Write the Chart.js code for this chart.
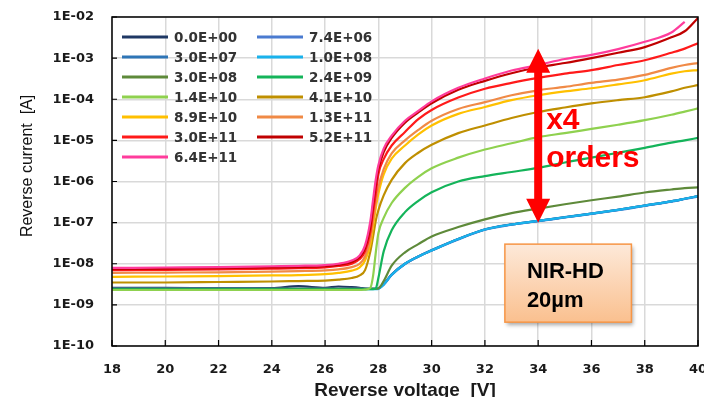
<!DOCTYPE html>
<html>
<head>
<meta charset="utf-8">
<script src="https://cdn.jsdelivr.net/npm/chart.js@4.4.1/dist/chart.umd.min.js"></script>
<style>
html, body { margin: 0; padding: 0; background: #fff; overflow: hidden; }
#wrap { width: 704px; height: 405px; }
</style>
</head>
<body>
<div id="wrap"><canvas id="myChart" width="704" height="405"></canvas></div>
<script>
// reverse voltage [V]
var volts = [18, 20, 22, 24, 25, 26, 26.5, 27, 27.3, 27.5, 27.7, 27.8, 27.9, 28, 28.2, 28.5, 29, 29.5, 30, 31, 32, 33, 34, 35, 36, 37, 38, 39, 39.5, 40];

// legend labels (fluence)
var doseLabels = ['0.0E+00', '7.4E+06', '3.0E+07', '1.0E+08', '3.0E+08', '2.4E+09', '1.4E+10',
    '4.1E+10', '8.9E+10', '1.3E+11', '3.0E+11', '5.2E+11', '6.4E+11'];

var lineColors = ['#1f3864', '#4a7bd0', '#2e75b6', '#19b2ec', '#5e8a3a', '#14b45a', '#8fd14f',
    '#bf8f00', '#ffc000', '#f08a46', '#ff1a1a', '#c00000', '#ff3c9c'];

// reverse current [A], one array per fluence
var iDose0 = [2.6e-9, 2.6e-9, 2.55e-9, 2.55e-9, 2.85e-9, 2.6e-9, 2.8e-9, 2.7e-9, 2.6e-9, 2.5e-9, 2.45e-9, 2.45e-9, 2.45e-9, 2.5e-9, 3.2e-9, 5.5e-9, 1.0e-8, 1.5e-8, 2.1e-8, 4.0e-8, 6.8e-8, 9.0e-8, 1.1e-7, 1.35e-7, 1.65e-7, 2.05e-7, 2.6e-7, 3.3e-7, 3.8e-7, 4.4e-7];
var iDose74e6 = [2.5e-9, 2.5e-9, 2.5e-9, 2.45e-9, 2.45e-9, 2.45e-9, 2.45e-9, 2.45e-9, 2.45e-9, 2.45e-9, 2.45e-9, 2.45e-9, 2.45e-9, 2.5e-9, 3.1e-9, 5.3e-9, 9.8e-9, 1.5e-8, 2.1e-8, 3.9e-8, 6.7e-8, 8.9e-8, 1.08e-7, 1.33e-7, 1.63e-7, 2.0e-7, 2.55e-7, 3.25e-7, 3.75e-7, 4.3e-7];
var iDose3e7 = [2.45e-9, 2.45e-9, 2.45e-9, 2.45e-9, 2.45e-9, 2.45e-9, 2.45e-9, 2.45e-9, 2.45e-9, 2.45e-9, 2.45e-9, 2.45e-9, 2.45e-9, 2.5e-9, 3.2e-9, 5.5e-9, 1.0e-8, 1.5e-8, 2.15e-8, 4.0e-8, 6.9e-8, 9.1e-8, 1.1e-7, 1.36e-7, 1.66e-7, 2.06e-7, 2.6e-7, 3.3e-7, 3.8e-7, 4.4e-7];
var iDose1e8 = [2.4e-9, 2.4e-9, 2.4e-9, 2.4e-9, 2.4e-9, 2.4e-9, 2.4e-9, 2.4e-9, 2.4e-9, 2.4e-9, 2.4e-9, 2.4e-9, 2.4e-9, 2.45e-9, 3.1e-9, 5.4e-9, 1.0e-8, 1.5e-8, 2.1e-8, 4.0e-8, 6.8e-8, 9.0e-8, 1.1e-7, 1.35e-7, 1.65e-7, 2.05e-7, 2.6e-7, 3.3e-7, 3.8e-7, 4.4e-7];
var iDose3e8 = [2.45e-9, 2.45e-9, 2.45e-9, 2.45e-9, 2.45e-9, 2.45e-9, 2.45e-9, 2.45e-9, 2.45e-9, 2.45e-9, 2.45e-9, 2.45e-9, 2.45e-9, 2.5e-9, 3.8e-9, 9.0e-9, 1.9e-8, 3.0e-8, 4.6e-8, 7.8e-8, 1.2e-7, 1.7e-7, 2.2e-7, 2.8e-7, 3.5e-7, 4.3e-7, 5.4e-7, 6.4e-7, 6.9e-7, 7.2e-7];
var iDose24e9 = [2.4e-9, 2.4e-9, 2.4e-9, 2.4e-9, 2.4e-9, 2.4e-9, 2.4e-9, 2.4e-9, 2.4e-9, 2.4e-9, 2.4e-9, 2.4e-9, 2.5e-9, 4.5e-9, 2.0e-8, 6.5e-8, 1.8e-7, 3.4e-7, 5.5e-7, 1.0e-6, 1.35e-6, 1.7e-6, 2.15e-6, 2.9e-6, 3.8e-6, 5.0e-6, 6.6e-6, 8.8e-6, 1.0e-5, 1.15e-5];
var iDose14e10 = [2.3e-9, 2.3e-9, 2.3e-9, 2.3e-9, 2.3e-9, 2.3e-9, 2.3e-9, 2.3e-9, 2.3e-9, 2.35e-9, 2.6e-9, 5.0e-9, 1.8e-8, 5.5e-8, 1.3e-7, 3.0e-7, 7.0e-7, 1.3e-6, 2.1e-6, 3.8e-6, 6.0e-6, 8.5e-6, 1.2e-5, 1.5e-5, 1.9e-5, 2.4e-5, 3.1e-5, 4.2e-5, 5.0e-5, 6.0e-5];
var iDose41e10 = [3.5e-9, 3.5e-9, 3.6e-9, 3.7e-9, 3.8e-9, 3.9e-9, 4.1e-9, 4.5e-9, 5.2e-9, 7.0e-9, 2.0e-8, 4.5e-8, 1.1e-7, 2.0e-7, 4.6e-7, 1.1e-6, 2.8e-6, 5.0e-6, 7.8e-6, 1.5e-5, 2.3e-5, 3.5e-5, 4.9e-5, 6.3e-5, 7.9e-5, 9.5e-5, 1.12e-4, 1.55e-4, 1.9e-4, 2.2e-4];
var iDose89e10 = [4.8e-9, 4.9e-9, 5.0e-9, 5.2e-9, 5.3e-9, 5.6e-9, 6.0e-9, 6.8e-9, 8.2e-9, 1.2e-8, 3.0e-8, 8.0e-8, 2.2e-7, 5.0e-7, 1.5e-6, 3.6e-6, 7.5e-6, 1.4e-5, 2.3e-5, 4.4e-5, 6.5e-5, 9.5e-5, 1.25e-4, 1.55e-4, 1.85e-4, 2.3e-4, 2.9e-4, 4.2e-4, 4.8e-4, 5.1e-4];
var iDose13e11 = [6.0e-9, 6.1e-9, 6.2e-9, 6.4e-9, 6.6e-9, 6.9e-9, 7.3e-9, 8.3e-9, 1.0e-8, 1.5e-8, 4.0e-8, 1.1e-7, 3.0e-7, 7.0e-7, 2.0e-6, 4.8e-6, 1.0e-5, 1.8e-5, 3.0e-5, 5.8e-5, 8.5e-5, 1.25e-4, 1.65e-4, 2.0e-4, 2.5e-4, 3.0e-4, 3.9e-4, 5.8e-4, 6.8e-4, 7.6e-4];
var iDose3e11 = [7.0e-9, 7.1e-9, 7.3e-9, 7.6e-9, 7.8e-9, 8.2e-9, 8.8e-9, 1.0e-8, 1.3e-8, 2.0e-8, 6.0e-8, 1.8e-7, 5.0e-7, 1.5e-6, 3.5e-6, 7.5e-6, 1.6e-5, 3.3e-5, 5.5e-5, 1.1e-4, 1.8e-4, 2.5e-4, 3.3e-4, 4.2e-4, 5.1e-4, 6.8e-4, 8.9e-4, 1.35e-3, 1.7e-3, 2.3e-3];
var iDose52e11 = [7.4e-9, 7.6e-9, 7.8e-9, 8.1e-9, 8.3e-9, 8.7e-9, 9.4e-9, 1.1e-8, 1.45e-8, 2.4e-8, 8.0e-8, 2.6e-7, 8.0e-7, 2.0e-6, 5.2e-6, 1.15e-5, 2.7e-5, 4.8e-5, 8.0e-5, 1.7e-4, 2.8e-4, 4.3e-4, 6.0e-4, 7.6e-4, 1.0e-3, 1.35e-3, 1.85e-3, 3.2e-3, 4.5e-3, 9.5e-3];
var iDose64e11 = [7.9e-9, 8.1e-9, 8.3e-9, 8.7e-9, 8.9e-9, 9.3e-9, 1.0e-8, 1.2e-8, 1.6e-8, 2.8e-8, 1.1e-7, 3.5e-7, 1.1e-6, 2.5e-6, 6.3e-6, 1.3e-5, 3.0e-5, 5.2e-5, 8.9e-5, 1.9e-4, 3.2e-4, 5.0e-4, 6.8e-4, 9.5e-4, 1.2e-3, 1.66e-3, 2.5e-3, 4.2e-3, 7.6e-3, null];

var currents = [iDose0, iDose74e6, iDose3e7, iDose1e8, iDose3e8, iDose24e9, iDose14e10,
    iDose41e10, iDose89e10, iDose13e11, iDose3e11, iDose52e11, iDose64e11];

var yTicks = [1e-10, 1e-9, 1e-8, 1e-7, 1e-6, 1e-5, 1e-4, 1e-3, 1e-2];
var yTickLabels = ['1E-10', '1E-09', '1E-08', '1E-07', '1E-06', '1E-05', '1E-04', '1E-03', '1E-02'];

// annotation texts
var arrowV = 34;
var arrowFrom = 1.0e-7;
var arrowTo = 1.7e-3;
var noteLines = ['x4', 'orders'];
var boxLines = ['NIR-HD', '20\u00b5m'];

var datasets = currents.map(function (arr, i) {
    return {
        label: doseLabels[i],
        data: arr.map(function (v, k) { return { x: volts[k], y: v }; }),
        borderColor: lineColors[i],
        backgroundColor: lineColors[i],
        borderWidth: 2.2,
        pointRadius: 0,
        cubicInterpolationMode: 'monotone',
        order: currents.length - i  // later doses drawn on top
    };
});

var tickFont = { family: 'DejaVu Sans', size: 13, weight: 'bold' };

// frame + inner tick marks
var framePlugin = {
    id: 'frame',
    afterDatasetsDraw: function (chart) {
        var c = chart.ctx, a = chart.chartArea;
        var xs = chart.scales.x, ys = chart.scales.y;
        c.save();
        c.strokeStyle = '#000';
        c.lineWidth = 1.5;
        c.strokeRect(a.left, a.top, a.right - a.left, a.bottom - a.top);
        c.lineWidth = 1.2;
        c.beginPath();
        xs.ticks.forEach(function (t) {
            var px = xs.getPixelForValue(t.value);
            c.moveTo(px, a.bottom);
            c.lineTo(px, a.bottom - 6);
        });
        ys.ticks.forEach(function (t) {
            var py = ys.getPixelForValue(t.value);
            c.moveTo(a.left, py);
            c.lineTo(a.left + 5, py);
        });
        c.stroke();
        c.restore();
    }
};

// legend in two columns inside the plot
var legendPlugin = {
    id: 'innerLegend',
    afterDatasetsDraw: function (chart) {
        var c = chart.ctx, a = chart.chartArea;
        c.save();
        c.font = 'bold 13.5px "DejaVu Sans"';
        c.textBaseline = 'middle';
        c.fillStyle = '#333';
        chart.data.datasets.forEach(function (ds, i) {
            var col = i % 2, row = Math.floor(i / 2);
            var x0 = a.left + 10 + col * 135;
            var y0 = a.top + 20 + row * 20;
            c.strokeStyle = ds.borderColor;
            c.lineWidth = 3;
            c.beginPath();
            c.moveTo(x0, y0);
            c.lineTo(x0 + 46, y0);
            c.stroke();
            c.fillText(ds.label, x0 + 52, y0 + 1);
        });
        c.restore();
    }
};

// red double arrow, note and sample box
var notePlugin = {
    id: 'notes',
    afterDatasetsDraw: function (chart) {
        var c = chart.ctx;
        var xs = chart.scales.x, ys = chart.scales.y;
        var ax = xs.getPixelForValue(arrowV);
        var yTop = ys.getPixelForValue(arrowTo);
        var yBot = ys.getPixelForValue(arrowFrom);
        var hw = 12, hl = 24, sw = 4;
        c.save();
        c.fillStyle = '#ff0000';
        c.beginPath();
        c.moveTo(ax, yTop);
        c.lineTo(ax + hw, yTop + hl);
        c.lineTo(ax + sw, yTop + hl);
        c.lineTo(ax + sw, yBot - hl);
        c.lineTo(ax + hw, yBot - hl);
        c.lineTo(ax, yBot);
        c.lineTo(ax - hw, yBot - hl);
        c.lineTo(ax - sw, yBot - hl);
        c.lineTo(ax - sw, yTop + hl);
        c.lineTo(ax - hw, yTop + hl);
        c.closePath();
        c.fill();

        c.font = 'bold 30px "Liberation Sans"';
        c.textBaseline = 'alphabetic';
        var tx = xs.getPixelForValue(34.3);
        c.fillText(noteLines[0], tx, ys.getPixelForValue(1.9e-5));
        c.fillText(noteLines[1], tx, ys.getPixelForValue(2.2e-6));

        // box
        var bx = xs.getPixelForValue(32.75), bw = xs.getPixelForValue(37.5) - bx;
        var by = ys.getPixelForValue(3.0e-8), bh = ys.getPixelForValue(3.8e-10) - by;
        c.shadowColor = 'rgba(0,0,0,0.35)';
        c.shadowOffsetX = 2;
        c.shadowOffsetY = 3;
        c.shadowBlur = 4;
        var g = c.createLinearGradient(0, by, 0, by + bh);
        g.addColorStop(0, '#fde9d9');
        g.addColorStop(1, '#fac08f');
        c.fillStyle = g;
        c.fillRect(bx, by, bw, bh);
        c.shadowColor = 'transparent';
        c.strokeStyle = '#f79646';
        c.lineWidth = 1.5;
        c.strokeRect(bx, by, bw, bh);
        c.fillStyle = '#000';
        c.font = 'bold 22px "Liberation Sans"';
        c.fillText(boxLines[0], bx + 22, by + 34);
        c.fillText(boxLines[1], bx + 22, by + 63);
        c.restore();
    }
};

var ctx = document.getElementById('myChart').getContext('2d');
var myChart = new Chart(ctx, {
    type: 'line',
    data: { datasets: datasets },
    options: {
        responsive: false,
        animation: false,
        devicePixelRatio: 1,
        layout: { padding: { top: 17, right: 6, left: 0, bottom: 0 } },
        plugins: {
            legend: { display: false },
            tooltip: { enabled: false }
        },
        scales: {
            x: {
                type: 'linear',
                min: 18,
                max: 40,
                grid: { color: '#d9d9d9', lineWidth: 1.5, drawTicks: false },
                border: { display: false },
                ticks: { stepSize: 2, font: tickFont, color: '#1a1a1a', padding: 16, maxRotation: 0 },
                title: {
                    display: true,
                    text: 'Reverse voltage  [V]',
                    color: '#1a1a1a',
                    font: { family: 'Liberation Sans', size: 19, weight: 'bold' },
                    padding: { top: 0, bottom: 3 }
                },
                afterFit: function (scale) {
                    scale.height = 59;
                    scale.paddingLeft = 0;
                    scale.paddingRight = 0;
                }
            },
            y: {
                type: 'logarithmic',
                min: 1e-10,
                max: 1e-2,
                grid: { color: '#d9d9d9', lineWidth: 1.5, drawTicks: false },
                border: { display: false },
                afterBuildTicks: function (scale) {
                    scale.ticks = yTicks.map(function (v) { return { value: v, major: true }; });
                },
                ticks: {
                    font: tickFont,
                    color: '#1a1a1a',
                    padding: 18,
                    autoSkip: false,
                    callback: function (value, index) { return yTickLabels[index]; }
                },
                title: {
                    display: true,
                    text: '       Reverse current  [A]',
                    color: '#111',
                    font: { family: 'Liberation Sans', size: 16 },
                    padding: { top: 18, bottom: 0 }
                },
                afterFit: function (scale) {
                    scale.width = 112;
                    scale.paddingTop = 0;
                    scale.paddingBottom = 0;
                }
            }
        }
    },
    plugins: [framePlugin, legendPlugin, notePlugin]
});
</script>
</body>
</html>
